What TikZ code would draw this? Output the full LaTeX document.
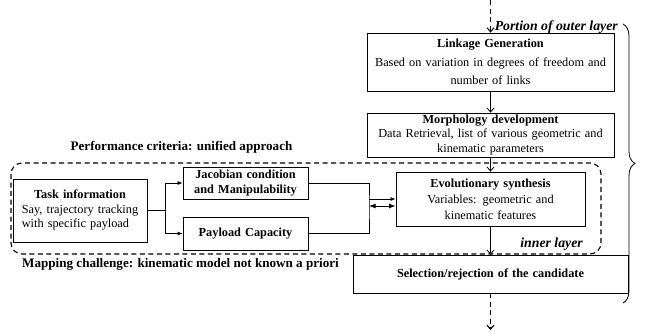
\documentclass[tikz,border=0pt]{standalone}
\usepackage{fontspec}
\setmainfont{Liberation Serif}
\usetikzlibrary{arrows.meta,decorations.pathreplacing}
\tikzset{
    blk/.style 2 args = {draw, line width=0.8pt, inner sep=0pt, text width=#1, minimum height=#2, align=center},
    vflow/.style = {-{Straight Barb[length=4pt, width=7pt]}, line width=0.8pt},
    hflow/.style = {-{Latex[length=5pt, width=4pt]}, line width=0.8pt},
    dsh/.style = {line width=1.1pt, dash pattern=on 5pt off 3.5pt},
    lbl/.style = {inner sep=0pt, font=\fontsize{13.1}{15}\selectfont\bfseries},
    lyr/.style = {inner sep=0pt, anchor=east, font=\fontsize{13.8}{16}\selectfont\bfseries\itshape}
}
\begin{document}
\begin{tikzpicture}[x = 1pt, y = -1pt, font = \fontsize{12.3}{14.5}\selectfont]
        \useasboundingbox (0, 0) rectangle (645, 333);
        % outer layer
        \node [blk = {247pt}{58pt}] (link) at (490.5, 62) {\textbf{Linkage Generation}\\[4pt] Based on variation in degrees of freedom and\\[4pt] number of links};
        \node [blk = {247pt}{44pt}] (morph) at (490.5, 135) {\textbf{Morphology development}\\ Data Retrieval, list of various geometric and\\ kinematic parameters};
        \node [blk = {189pt}{54pt}] (evol) at (490.5, 199) {\textbf{Evolutionary synthesis}\\[1.5pt] Variables: geometric and\\[1.5pt] kinematic features};
        \node [blk = {275pt}{38pt}] (sel) at (490.5, 274) {\textbf{Selection/rejection of the candidate}};
        % inner layer
        \node [blk = {134pt}{63pt}] (task) at (80, 210.5) {\begin{tabular}{@{}l@{}}\multicolumn{1}{c}{\textbf{Task information}}\\ Say, trajectory tracking\\ with specific payload\end{tabular}};
        \node [blk = {125pt}{32pt}] (jac) at (245.5, 183) {\textbf{Jacobian condition}\\ \textbf{and Manipulability}};
        \node [blk = {125pt}{33pt}] (pay) at (245.5, 233.5) {\textbf{Payload Capacity}};
        \draw [dsh, rounded corners = 11] (11, 163) rectangle (601, 254);
        \node [lbl] (perf) at (181.5, 147) {Performance criteria: unified approach};
        \node [lbl, anchor = west] (map) at (22, 264) {Mapping challenge: kinematic model not known a priori};
        \node [lyr] (inner) at (583, 244) {inner layer};
        \node [lyr] (outer) at (618, 27) {Portion of outer layer};
        % connectors
        \coordinate (top) at (490.5, 0);
        \coordinate (bot) at (490.5, 330);
        \draw [vflow, dsh] (top) -- (link.north);
        \draw [vflow] (link) -- (morph);
        \draw [vflow] (morph) -- (evol);
        \draw [vflow] (evol) -- (sel);
        \draw [vflow, dsh] (sel.south) -- (bot);
        \draw [line width = 0.8pt] (task.east) -- ++(18, 0) coordinate (split);
        \draw [hflow] (split) |- (jac.west);
        \draw [hflow] (split) |- (pay.west);
        \coordinate (mrg) at (369, 206);
        \draw [line width = 0.8pt] (jac.east) -| (mrg) |- (pay.east);
        \draw [hflow] (mrg |- evol.west) -- (evol.west);
        \draw [hflow, Latex-Latex] (mrg) -- (mrg -| evol.west);
        % brace
        \draw [line width = 0.8pt, decorate, decoration = {brace, amplitude = 12pt}] (623, 24) -- (623, 303);
    \end{tikzpicture}
\end{document}
